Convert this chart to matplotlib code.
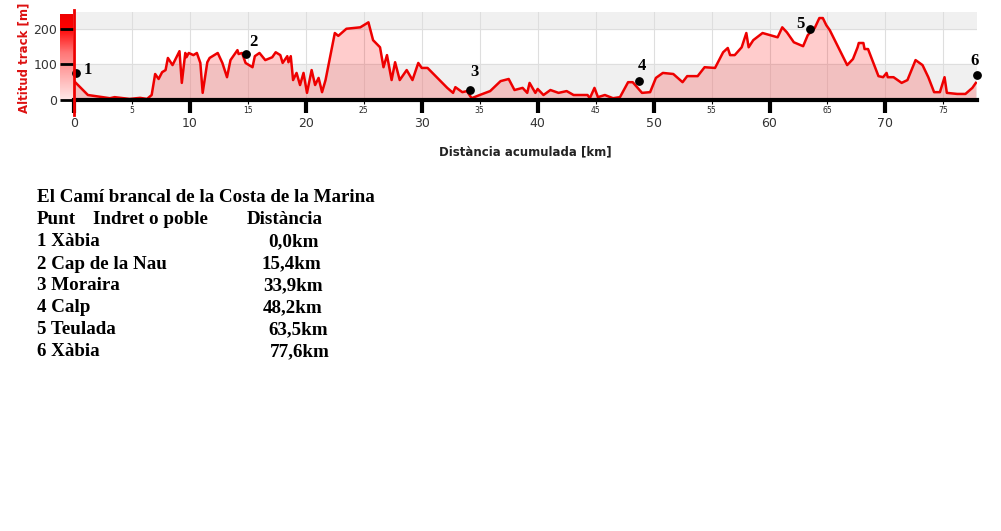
import numpy as np
import matplotlib
matplotlib.use("Agg")
import matplotlib.pyplot as plt
from matplotlib.colors import LinearSegmentedColormap
from matplotlib.lines import Line2D

# profile (km, m)
km = [0.1, 1.2, 3.1, 3.5, 4.8, 5.7, 6.3, 6.7, 7.0, 7.3,
      7.6, 7.9, 8.1, 8.5, 9.1, 9.3, 9.6, 9.7, 9.9, 10.3,
      10.6, 10.9, 11.1, 11.5, 11.7, 12.4, 12.8, 13.2, 13.5, 14.1,
      14.2, 14.5, 14.8, 15.4, 15.6, 16.0, 16.5, 17.1, 17.4, 17.8,
      18.0, 18.4, 18.5, 18.7, 18.9, 19.2, 19.5, 19.8, 20.1, 20.5,
      20.8, 21.1, 21.4, 21.7, 22.5, 22.8, 23.5, 24.7, 25.4, 25.8,
      26.4, 26.7, 27.0, 27.4, 27.7, 28.1, 28.7, 29.2, 29.7, 30.0,
      30.5, 32.2, 32.7, 32.9, 33.5, 33.9, 34.3, 35.0, 35.9, 36.8,
      37.5, 38.0, 38.7, 39.1, 39.3, 39.8, 40.0, 40.5, 41.1, 41.8,
      42.5, 43.1, 44.3, 44.5, 44.9, 45.2, 45.8, 46.5, 47.1, 47.8,
      48.2, 49.0, 49.7, 50.2, 50.8, 51.7, 52.5, 52.9, 53.8, 54.4,
      55.3, 56.0, 56.4, 56.6, 57.0, 57.6, 58.0, 58.2, 58.6, 59.4,
      60.7, 61.1, 61.5, 62.1, 62.9, 63.3, 63.9, 64.3, 64.6, 64.9,
      65.2, 66.7, 67.2, 67.6, 67.7, 68.1, 68.2, 68.5, 69.4, 69.8,
      70.1, 70.2, 70.7, 71.4, 71.9, 72.6, 73.2, 73.7, 74.2, 74.7,
      75.1, 75.3, 76.2, 76.9, 77.5, 77.8]
alt = [50, 14, 5, 8, 3, 6, 3, 14, 73, 59,
       78, 84, 118, 98, 137, 48, 132, 120, 132, 126,
       132, 104, 20, 106, 118, 132, 104, 64, 112, 140,
       129, 132, 104, 92, 123, 132, 112, 120, 134, 126,
       104, 123, 106, 123, 56, 76, 42, 76, 20, 84,
       42, 62, 22, 56, 188, 180, 200, 204, 218, 168,
       148, 92, 126, 56, 106, 56, 84, 56, 104, 90,
       90, 34, 20, 36, 22, 25, 5, 14, 25, 53,
       59, 28, 34, 20, 48, 20, 31, 14, 28, 20,
       25, 14, 14, 5, 34, 8, 14, 5, 8, 50,
       50, 20, 22, 62, 76, 73, 50, 67, 67, 92,
       90, 134, 146, 126, 126, 148, 188, 148, 168, 188,
       176, 204, 190, 162, 151, 182, 202, 230, 230, 210,
       196, 98, 115, 148, 160, 160, 143, 143, 67, 64,
       76, 64, 64, 48, 56, 112, 98, 64, 22, 22,
       64, 20, 17, 17, 34, 48]

# waypoints
pt_labels = ["1", "2", "3", "4", "5", "6"]
pt_km = [0.2, 14.8, 34.2, 48.7, 63.5, 77.9]
pt_alt = [76, 129, 28, 53, 199, 70]
pt_offsets = [(11, 3), (8, 12), (4, 18), (3, 15), (-10, 5), (-2, 14)]

# table under the chart
title = "El Camí brancal de la Costa de la Marina"
header = ["Punt", "Indret o poble", "Distància"]
places = ["1 Xàbia", "2 Cap de la Nau", "3 Moraira", "4 Calp", "5 Teulada", "6 Xàbia"]
dists = ["0,0km", "15,4km", "33,9km", "48,2km", "63,5km", "77,6km"]
dist_x = [268, 262, 263, 263, 268, 270]

W, H = 1001, 531
fig = plt.figure(figsize=(W / 100, H / 100), dpi=100)
fig.patch.set_facecolor("white")

def fx(px):
    return px / W

def fy(py):
    return 1 - py / H

# red gradient bar left of the axis
gax = fig.add_axes([fx(60), fy(100), fx(13), 86 / H])
cmap = LinearSegmentedColormap.from_list("rg", [(0, "#ffe8e8"), (0.55, "#ff7777"), (0.85, "#ff0000"), (1, "#ee0000")])
grad = np.linspace(0, 1, 100).reshape(-1, 1)
gax.imshow(grad, aspect="auto", cmap=cmap, origin="lower")
gax.axis("off")

ax = fig.add_axes([fx(74), fy(100), fx(977 - 74), 88 / H])
ax.set_xlim(0, 77.9)
ax.set_ylim(0, 247)

ax.axhspan(0, 100, color="#f0f0f0", zorder=0)
ax.axhspan(200, 247, color="#f0f0f0", zorder=0)
for x in range(0, 80, 5):
    ax.axvline(x, color="#dedede", lw=0.8, zorder=0.5)
for y in [100, 200]:
    ax.axhline(y, color="#dedede", lw=0.8, zorder=0.5)

ax.fill_between(km, alt, 0, color="red", alpha=0.2, lw=0, zorder=1)
ax.plot(km, alt, color="#ee0000", lw=1.8, zorder=2)

ax.scatter(pt_km, pt_alt, s=28, color="black", zorder=3, clip_on=False)
for lab, x, y, off in zip(pt_labels, pt_km, pt_alt, pt_offsets):
    ax.annotate(lab, (x, y), xytext=off, textcoords="offset pixels",
                ha="center", va="center", fontsize=12, fontweight="bold",
                family="Liberation Serif", color="black", annotation_clip=False)

for s in ["top", "right", "left"]:
    ax.spines[s].set_visible(False)
ax.spines["bottom"].set_color("black")
ax.spines["bottom"].set_linewidth(3)
ax.spines["bottom"].set_zorder(4)

ax.set_xticks(range(0, 80, 10))
ax.set_xticklabels([str(v) for v in range(0, 80, 10)])
ax.set_xticks(range(5, 80, 10), minor=True)
ax.set_xticklabels([str(v) for v in range(5, 80, 10)], minor=True)
ax.tick_params(axis="x", which="major", length=9, width=3, color="black",
               labelsize=9, labelcolor="#333333", pad=3)
ax.tick_params(axis="x", which="minor", length=3, width=0.8, color="black",
               labelsize=5.5, labelcolor="#222222", pad=1)

ax.set_yticks([0, 100, 200])
ax.set_yticklabels(["0", "100", "200"])
ax.tick_params(axis="y", length=10, width=2, color="black",
               labelsize=9, labelcolor="#333333", pad=2)

fig.add_artist(Line2D([fx(74), fx(74)], [fy(10), fy(115)], color="#ee0000", lw=2))

fig.text(fx(525), fy(152), "Distància acumulada [km]", ha="center", va="center",
         fontsize=8.5, fontweight="bold", color="#222222")
fig.text(fx(24), fy(58), "Altitud track [m]", ha="center", va="center", rotation=90,
         fontsize=8.5, fontweight="bold", color="#dd1111")

serif = dict(family="Liberation Serif", fontweight="bold", fontsize=13.7, va="center", color="black")
fig.text(fx(37), fy(198), title, **serif)
fig.text(fx(37), fy(220), header[0], **serif)
fig.text(fx(93), fy(220), header[1], **serif)
fig.text(fx(247), fy(220), header[2], **serif)
for i, (p, d, dx) in enumerate(zip(places, dists, dist_x)):
    y = 242 + 22 * i
    fig.text(fx(37), fy(y), p, **serif)
    fig.text(fx(dx), fy(y), d, **serif)

fig.savefig("out.png", dpi=100, facecolor="white")
